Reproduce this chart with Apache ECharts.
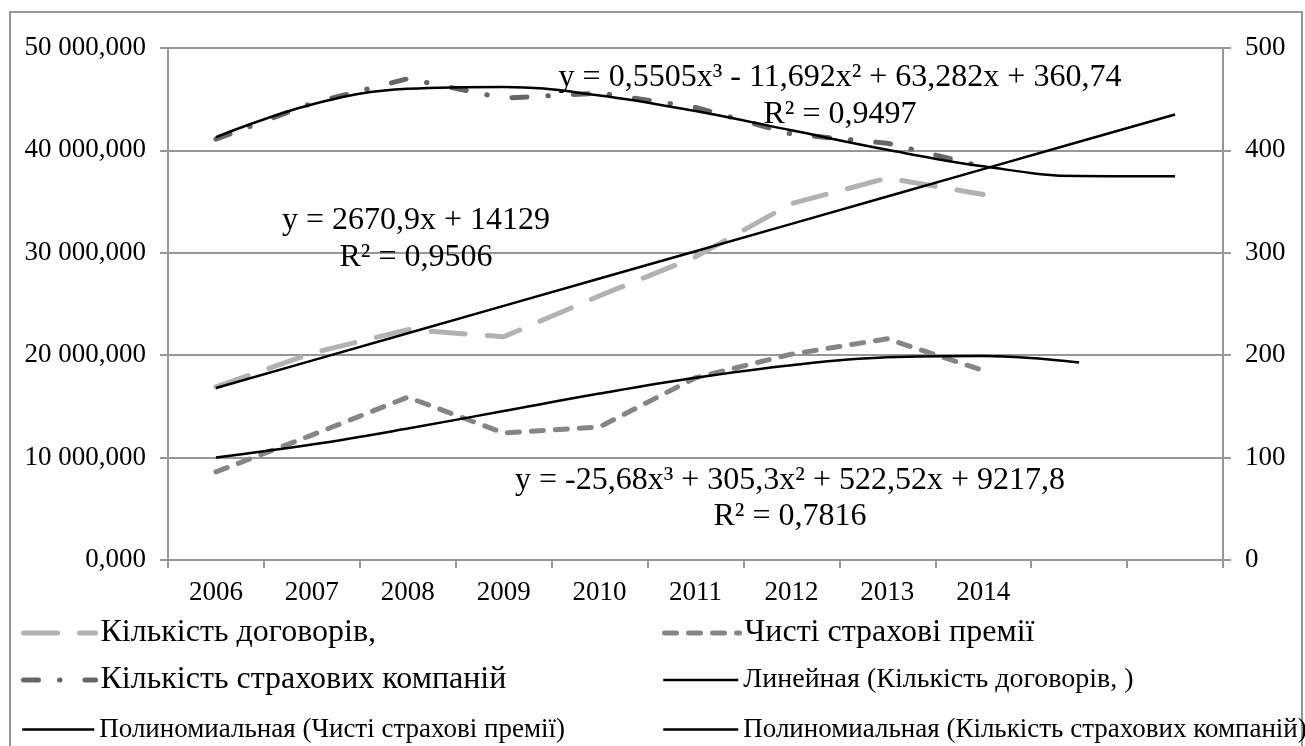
<!DOCTYPE html>
<html>
<head>
<meta charset="utf-8">
<script src="https://cdn.jsdelivr.net/npm/echarts@6/dist/echarts.min.js"></script>
<style>
  html, body { margin: 0; padding: 0; background: #fff; }
  #chart { width: 1305px; height: 746px; }
</style>
</head>
<body>
<div id="chart"></div>
<script>
const years = ['2006', '2007', '2008', '2009', '2010', '2011', '2012', '2013', '2014', '', ''];

// values, thousands
const dogovory = [16900, 20200, 22500, 21800, 25800, 29600, 34800, 37300, 35700];
const premii = [8600, 12200, 15900, 12400, 13000, 17800, 20100, 21600, 18500];
// right axis
const kompanii = [411, 446, 470, 451, 456, 442, 416, 407, 384];

// trend lines as drawn
const linDogovory = [16800, 19471, 22142, 24813, 27484, 30154, 32825, 35496, 38167, 40838, 43509];
const polyPremii = [10020, 11279, 12840, 14549, 16253, 17797, 19027, 19789, 19929, 19293];
const polyKompanii = [412.9, 444.9, 460.2, 462.0, 453.7, 438.4, 419.6, 400.6, 384.5, 374.9, 374.8];

const leftTicks = [0, 10000, 20000, 30000, 40000, 50000];

const names = [
  'Кількість договорів,',
  'Чисті страхові премії',
  'Кількість страхових компаній',
  'Линейная (Кількість договорів, )',
  'Полиномиальная (Чисті страхові премії)',
  'Полиномиальная (Кількість страхових компаній)'
];

const FONT = '"Liberation Serif", "Times New Roman", serif';
const GRID = '#979797';

function fmtLeft(v) {
  let s = String(Math.round(v)).replace(/\B(?=(\d{3})+(?!\d))/g, ' ');
  return s + ',000';
}

const styles = [
  { color: '#b2b2b2', width: 5, type: [34, 22], cap: 'round' },
  { color: '#858585', width: 5, type: [12, 12], cap: 'round' },
  { color: '#666666', width: 5, type: [15, 21, 0.5, 25], cap: 'round' },
  { color: '#000', width: 2.5, type: 'solid' },
  { color: '#000', width: 2.5, type: 'solid' },
  { color: '#000', width: 2.5, type: 'solid' }
];

const legendPos = [
  { left: 21, top: 617, w: 72, size: 32 },
  { left: 662, top: 617, w: 75, size: 32 },
  { left: 21, top: 664, w: 72, size: 32 },
  { left: 662, top: 666, w: 75, size: 28 },
  { left: 21, top: 716, w: 72, size: 27 },
  { left: 662, top: 716, w: 75, size: 27 }
];

const chart = echarts.init(document.getElementById('chart'));

const legends = names.map((n, i) => ({
  data: [n],
  left: legendPos[i].left,
  top: legendPos[i].top,
  padding: 0,
  itemWidth: legendPos[i].w,
  itemHeight: 14,
  itemGap: 6,
  lineStyle: styles[i],
  itemStyle: { opacity: 0 },
  textStyle: { fontFamily: FONT, fontSize: legendPos[i].size, color: '#000' },
  selectedMode: false
}));

function eqText(text, x, y) {
  return {
    type: 'text',
    x: x, y: y,
    style: {
      text: text,
      font: '32px ' + FONT,
      fill: '#000',
      textAlign: 'center',
      textVerticalAlign: 'middle'
    },
    z: 100
  };
}

chart.setOption({
  backgroundColor: '#fff',
  animation: false,
  legend: legends,
  grid: { left: 168, right: 82, top: 48, bottom: 186, containLabel: false },
  xAxis: {
    type: 'category',
    data: years,
    boundaryGap: true,
    axisLine: { lineStyle: { color: GRID, width: 2 } },
    axisTick: { show: true, interval: 0, length: 8, lineStyle: { color: GRID, width: 2 } },
    axisLabel: { interval: 0, color: '#000', fontFamily: FONT, fontSize: 27, margin: 19 },
    splitLine: { show: false }
  },
  yAxis: [
    {
      type: 'value',
      min: leftTicks[0],
      max: leftTicks[leftTicks.length - 1],
      interval: 10000,
      axisLine: { show: true, lineStyle: { color: GRID, width: 2 } },
      axisTick: { show: true, length: 8, lineStyle: { color: GRID, width: 2 } },
      axisLabel: { color: '#000', fontFamily: FONT, fontSize: 27, margin: 22, formatter: fmtLeft },
      splitLine: { show: true, lineStyle: { color: GRID, width: 2 } }
    },
    {
      type: 'value',
      min: 0,
      max: 500,
      interval: 100,
      position: 'right',
      axisLine: { show: true, lineStyle: { color: GRID, width: 2 } },
      axisTick: { show: true, length: 8, lineStyle: { color: GRID, width: 2 } },
      axisLabel: { color: '#000', fontFamily: FONT, fontSize: 27, margin: 22 },
      splitLine: { show: false }
    }
  ],
  series: [
    { name: names[0], type: 'line', data: dogovory, yAxisIndex: 0, symbol: 'none', lineStyle: styles[0], itemStyle: { color: styles[0].color }, z: 2 },
    { name: names[1], type: 'line', data: premii, yAxisIndex: 0, symbol: 'none', lineStyle: styles[1], itemStyle: { color: styles[1].color }, z: 2 },
    { name: names[2], type: 'line', data: kompanii, yAxisIndex: 1, symbol: 'none', lineStyle: styles[2], itemStyle: { color: styles[2].color }, z: 2 },
    { name: names[3], type: 'line', data: linDogovory, yAxisIndex: 0, symbol: 'none', lineStyle: styles[3], itemStyle: { color: '#000' }, z: 3 },
    { name: names[4], type: 'line', data: polyPremii, yAxisIndex: 0, symbol: 'none', smooth: 0.4, lineStyle: styles[4], itemStyle: { color: '#000' }, z: 3 },
    { name: names[5], type: 'line', data: polyKompanii, yAxisIndex: 1, symbol: 'none', smooth: 0.4, lineStyle: styles[5], itemStyle: { color: '#000' }, z: 3 }
  ],
  graphic: [
    {
      type: 'rect',
      shape: { x: 10, y: 12, width: 1292, height: 745 },
      style: { fill: 'none', stroke: GRID, lineWidth: 2 },
      silent: true
    },
    eqText('y = 0,5505x³ - 11,692x² + 63,282x + 360,74', 840, 78),
    eqText('R² = 0,9497', 840, 115),
    eqText('y = 2670,9x + 14129', 416, 221),
    eqText('R² = 0,9506', 416, 258),
    eqText('y = -25,68x³ + 305,3x² + 522,52x + 9217,8', 790, 481),
    eqText('R² = 0,7816', 790, 517)
  ]
});

window.addEventListener('resize', () => chart.resize());
</script>
</body>
</html>
